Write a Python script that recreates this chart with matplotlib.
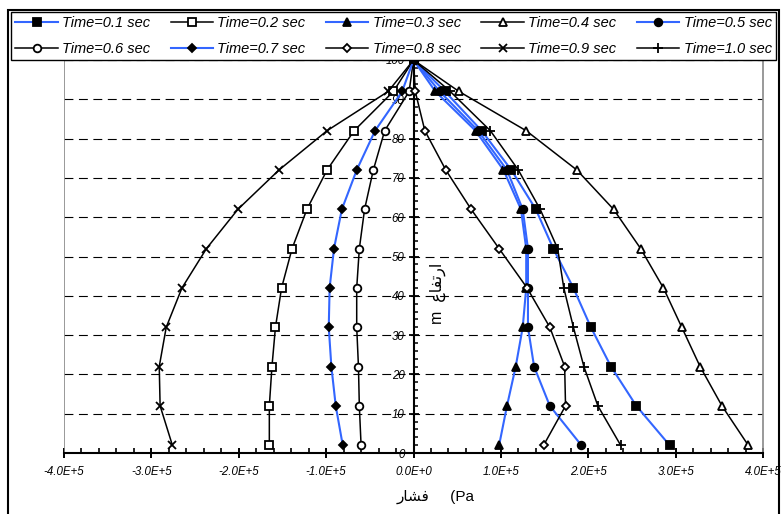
import matplotlib
matplotlib.use('Agg')
import matplotlib.pyplot as plt
from matplotlib.patches import Rectangle
from matplotlib.ticker import MultipleLocator, FixedLocator, FixedFormatter

plt.rcParams['font.family'] = ['Liberation Sans', 'DejaVu Sans']

## data (pressure in units of 1E+5 Pa, height in m)
heights = [2, 12, 22, 32, 42, 52, 62, 72, 82, 92, 100]

p_01 = [2.93, 2.55, 2.26, 2.03, 1.83, 1.60, 1.40, 1.12, 0.78, 0.36, 0.0]
p_02 = [-1.65, -1.65, -1.62, -1.58, -1.51, -1.39, -1.22, -0.99, -0.68, -0.23, 0.0]
p_03 = [0.98, 1.07, 1.17, 1.25, 1.29, 1.29, 1.23, 1.03, 0.71, 0.25, 0.0]
p_04 = [3.83, 3.53, 3.28, 3.07, 2.86, 2.60, 2.29, 1.87, 1.29, 0.52, 0.0]
p_05 = [1.92, 1.56, 1.38, 1.31, 1.31, 1.31, 1.25, 1.07, 0.74, 0.30, 0.0]
p_06 = [-0.60, -0.62, -0.63, -0.65, -0.65, -0.62, -0.56, -0.46, -0.33, -0.05, 0.0]
p_07 = [-0.81, -0.89, -0.94, -0.97, -0.96, -0.91, -0.82, -0.65, -0.44, -0.13, 0.0]
p_08 = [1.49, 1.74, 1.73, 1.56, 1.30, 0.98, 0.66, 0.37, 0.13, 0.02, 0.0]
p_09 = [-2.76, -2.90, -2.91, -2.83, -2.65, -2.37, -2.01, -1.54, -0.99, -0.29, 0.0]
p_10 = [2.37, 2.11, 1.95, 1.83, 1.72, 1.65, 1.45, 1.20, 0.88, 0.42, 0.0]

labels = ['Time=0.1 sec', 'Time=0.2 sec', 'Time=0.3 sec', 'Time=0.4 sec', 'Time=0.5 sec',
          'Time=0.6 sec', 'Time=0.7 sec', 'Time=0.8 sec', 'Time=0.9 sec', 'Time=1.0 sec']

x_ticks = [-4, -3, -2, -1, 0, 1, 2, 3, 4]
x_ticklabels = ['-4.0E+5', '-3.0E+5', '-2.0E+5', '-1.0E+5', '0.0E+0',
                '1.0E+5', '2.0E+5', '3.0E+5', '4.0E+5']
y_ticks = [0, 10, 20, 30, 40, 50, 60, 70, 80, 90, 100]

# arabic labels in visual (left-to-right) order, shaped forms
x_title = '\uFEAD\uFE8E\uFEB8\uFED3' + '     (Pa'
y_title = 'm  ' + '\uFEC9\uFE8E\uFED4\uFE97\uFEAD\uFE8D'

BLUE = '#3366FF'

##Plot##
W, H = 782, 514
fig = plt.figure(figsize=(W / 100, H / 100), dpi=100)
ax = fig.add_axes([64 / W, 1 - 453 / H, (763 - 64) / W, (453 - 60) / H])

styles = [
    (p_01, BLUE, 's', 'black', 1.5),
    (p_02, 'black', 's', 'white', 1.1),
    (p_03, BLUE, '^', 'black', 1.5),
    (p_04, 'black', '^', 'white', 1.1),
    (p_05, BLUE, 'o', 'black', 1.5),
    (p_06, 'black', 'o', 'white', 1.1),
    (p_07, BLUE, 'D', 'black', 1.5),
    (p_08, 'black', 'D', 'white', 1.1),
    (p_09, 'black', 'x', 'black', 1.1),
    (p_10, 'black', '+', 'black', 1.1),
]

handles = []
for (vals, col, mk, face, lw), lab in zip(styles, labels):
    ms = 5.5
    if mk == 'D':
        ms = 4.5
    if mk == '+':
        ms = 6.5
    h, = ax.plot(vals, heights, color=col, linewidth=lw, marker=mk,
                 markersize=ms, markerfacecolor=face, markeredgecolor='black',
                 markeredgewidth=1.3, label=lab, zorder=3)
    handles.append(h)

ax.set_xlim(-4, 4)
ax.set_ylim(0, 100)

# spines: y axis through zero, grey frame at the sides
ax.spines['top'].set_visible(False)
ax.spines['left'].set_position(('data', 0))
ax.spines['left'].set_linewidth(1.5)
ax.spines['bottom'].set_linewidth(1.5)
ax.spines['right'].set_color('#888888')
ax.spines['right'].set_linewidth(1.2)
ax.axvline(-4, color='#888888', linewidth=1.2, zorder=1)

ax.xaxis.set_major_locator(FixedLocator(x_ticks))
ax.xaxis.set_major_formatter(FixedFormatter(x_ticklabels))
ax.xaxis.set_minor_locator(MultipleLocator(0.2))
ax.yaxis.set_major_locator(FixedLocator(y_ticks))
ax.yaxis.set_minor_locator(MultipleLocator(2))

ax.tick_params(axis='x', which='major', direction='inout', length=7, width=1.4, pad=6)
ax.tick_params(axis='x', which='minor', direction='in', length=3.5, width=1.2)
ax.tick_params(axis='y', which='major', direction='inout', length=7, width=1.3, pad=3)
ax.tick_params(axis='y', which='minor', direction='in', length=3, width=1.1)
for t in ax.get_xticklabels() + ax.get_yticklabels():
    t.set_fontstyle('italic')
    t.set_fontsize(8.3)

ax.yaxis.grid(True, color='black', linewidth=0.8, linestyle=(0, (8, 5)))
ax.set_axisbelow(True)

fig.text(436 / W, 1 - 497 / H, x_title, ha='center', va='center', fontsize=11)
fig.text(438 / W, 1 - 293 / H, y_title, ha='center', va='center', fontsize=11.5, rotation=90)

# legend, row-wise order in 5 columns
order = [0, 5, 1, 6, 2, 7, 3, 8, 4, 9]
leg = fig.legend([handles[i] for i in order], [labels[i] for i in order],
                 ncol=5, mode='expand', loc='upper left',
                 bbox_to_anchor=(11 / W, 1 - 61 / H, (776 - 11) / W, 49 / H),
                 prop={'style': 'italic', 'size': 10.5},
                 handlelength=2.9, handletextpad=0.3, borderpad=0.3,
                 labelspacing=0.8, fancybox=False, edgecolor='black',
                 framealpha=1, borderaxespad=0)
leg.get_frame().set_linewidth(1.0)

# outer chart border
fig.patches.append(Rectangle((8 / W, -0.01), (779 - 8) / W, 1.01 - 10 / H,
                             transform=fig.transFigure, fill=False,
                             edgecolor='black', linewidth=1.5))

plt.savefig('out.png', dpi=100)
